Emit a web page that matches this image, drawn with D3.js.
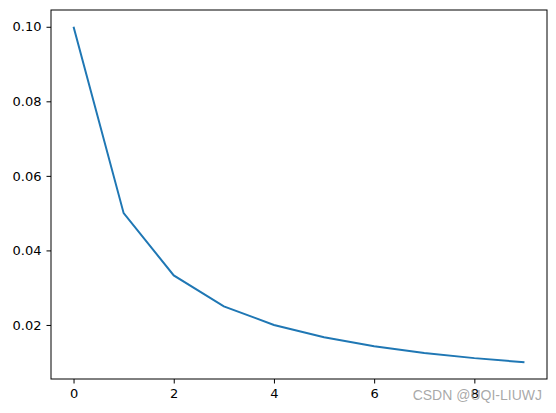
<!DOCTYPE html>
<html>
<head>
<meta charset="utf-8">
<script src="https://cdn.jsdelivr.net/npm/d3@7"></script>
<style>
  body { margin: 0; background: white; }
  .axis text { font-family: "DejaVu Sans", sans-serif; font-size: 13px; fill: #000; }
  .axis path, .axis line { stroke: #000; stroke-width: 1; }
</style>
</head>
<body>
<div id="chart"></div>
<script>
// values
const xs = [0, 1, 2, 3, 4, 5, 6, 7, 8, 9];
const ys = [0.1, 0.05, 0.0333, 0.025, 0.02, 0.0167, 0.0143, 0.0125, 0.0111, 0.01];
const xTicks = [0, 2, 4, 6, 8];
const yTicks = [0.02, 0.04, 0.06, 0.08, 0.10];

const W = 556, H = 413;
const margin = {top: 10, right: 9, bottom: 34, left: 51},
    width = W - margin.left - margin.right,
    height = H - margin.top - margin.bottom;

var svg = d3.select("#chart").append("svg")
    .attr("width", W)
    .attr("height", H);

var g = svg.append("g").attr("transform", "translate(" + margin.left + "," + margin.top + ")");

var x = d3.scaleLinear().domain([-0.45, 9.45]).range([0, width]);
var y = d3.scaleLinear().domain([0.0055, 0.1045]).range([height, 0]);

// frame
g.append("rect")
    .attr("width", width).attr("height", height)
    .attr("fill", "none").attr("stroke", "#000").attr("stroke-width", 1);

g.append("g")
    .attr("class", "axis")
    .attr("transform", "translate(0," + height + ")")
    .call(d3.axisBottom(x).tickValues(xTicks).tickSize(4.5).tickPadding(5).tickFormat(d3.format("d")))
    .call(a => a.select(".domain").remove());

g.append("g")
    .attr("class", "axis")
    .call(d3.axisLeft(y).tickValues(yTicks).tickSize(4.5).tickPadding(5).tickFormat(d3.format(".2f")))
    .call(a => a.select(".domain").remove());

var line = d3.line()
    .x(function(d, i) { return x(xs[i]); })
    .y(function(d) { return y(d); });

g.append("path")
    .datum(ys)
    .attr("d", line)
    .attr("fill", "none")
    .attr("stroke", "#1f77b4")
    .attr("stroke-width", 2);

// watermark (sits over the "8" tick label, as in the source image)
svg.append("text")
    .attr("x", 542).attr("y", 400)
    .attr("text-anchor", "end")
    .style("font-family", "Liberation Sans, Arial, sans-serif")
    .style("font-size", "14px")
    .style("fill", "#999")
    .style("fill-opacity", 0.85)
    .text("CSDN @UQI-LIUWJ");
</script>
</body>
</html>
